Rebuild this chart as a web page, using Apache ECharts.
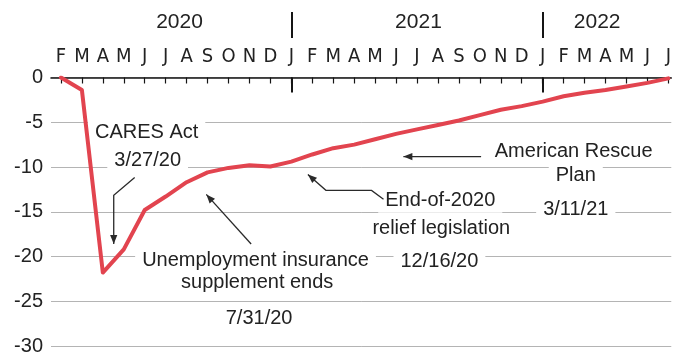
<!DOCTYPE html>
<html>
<head>
<meta charset="utf-8">
<script src="https://cdn.jsdelivr.net/npm/echarts@6/dist/echarts.min.js"></script>
<style>
  html, body { margin: 0; padding: 0; background: #fff; }
  #chart { width: 674px; height: 356px; }
</style>
</head>
<body>
<div id="chart"></div>
<script>
// Month index 0 = Feb 2020 ... 29 = Jul 2022
const monthLabels = ['F','M','A','M','J','J','A','S','O','N','D','J',
                     'F','M','A','M','J','J','A','S','O','N','D','J',
                     'F','M','A','M','J','J'];
const gapValues = [0, -1.4, -21.8, -19.2, -14.8, -13.3, -11.7, -10.6, -10.1, -9.8,
                   -9.95, -9.4, -8.6, -7.9, -7.5, -6.9, -6.3, -5.8, -5.3, -4.8,
                   -4.2, -3.6, -3.2, -2.7, -2.1, -1.7, -1.4, -1.0, -0.6, -0.1];
const yearLabels = ['2020', '2021', '2022'];
const yearLabelPos = [5.66, 17.07, 25.6];
const januaryIndex = [11, 23];
const yTicks = [0, -5, -10, -15, -20, -25, -30];

// Annotation text, anchored in (month index, value) space
const notes = [
  { text: 'CARES Act', at: [4.09, -6.17] },
  { text: '3/27/20', at: [4.14, -9.28] },
  { text: 'Unemployment insurance', at: [9.29, -20.39] },
  { text: 'supplement ends', at: [9.37, -22.94] },
  { text: '7/31/20', at: [9.46, -26.94] },
  { text: 'End-of-2020', at: [18.11, -13.72] },
  { text: 'relief legislation', at: [18.16, -16.83] },
  { text: '12/16/20', at: [18.07, -20.61] },
  { text: 'American Rescue', at: [24.48, -8.28] },
  { text: 'Plan', at: [24.58, -10.94] },
  { text: '3/11/21', at: [24.58, -14.72] }
];
// Leader arrows; the last point is the arrow tip
const arrows = [
  [[3.52, -11.17], [2.52, -13.17], [2.52, -18.61]],
  [[9.08, -18.61], [6.94, -13.06]],
  [[15.40, -13.61], [14.83, -12.61], [12.65, -12.61], [11.79, -10.83]],
  [[20.06, -8.83], [16.35, -8.83]]
];

const xMin = -0.475, xMax = 29.14;
const monthTicks = monthLabels.map((_, i) => i);
const FONT = '"Liberation Sans", Arial, sans-serif';
const NARROW = '"Liberation Sans Narrow", "DejaVu Sans Condensed", "Liberation Sans", sans-serif';

const chart = echarts.init(document.getElementById('chart'), null, { renderer: 'canvas' });

chart.setOption({
  animation: false,
  backgroundColor: '#fff',
  grid: { left: 51, right: 0, top: 77.5, bottom: 8.5, containLabel: false },
  xAxis: [
    {
      type: 'value', position: 'top', min: xMin, max: xMax,
      axisLine: { show: true, onZero: false, lineStyle: { color: '#151515', width: 1.6 } },
      axisTick: { show: true, inside: true, length: 6, customValues: monthTicks,
                  lineStyle: { color: '#151515', width: 1.2 } },
      axisLabel: { show: true, customValues: monthTicks, formatter: v => monthLabels[v],
                   margin: 11, fontSize: 20, fontFamily: NARROW, color: '#222' },
      splitLine: { show: false }
    },
    {
      type: 'value', position: 'top', min: xMin, max: xMax,
      axisLine: { show: false },
      axisTick: { show: true, inside: true, length: 15, customValues: januaryIndex,
                  lineStyle: { color: '#151515', width: 2 } },
      axisLabel: { show: false },
      splitLine: { show: false }
    },
    {
      type: 'value', position: 'top', offset: 39.5, min: xMin, max: xMax,
      axisLine: { show: false },
      axisTick: { show: true, inside: false, length: 26, customValues: januaryIndex,
                  lineStyle: { color: '#151515', width: 2 } },
      axisLabel: { show: true, customValues: yearLabelPos,
                   formatter: v => yearLabels[yearLabelPos.indexOf(v)] || '',
                   margin: 5, fontSize: 21, fontFamily: FONT, color: '#222' },
      splitLine: { show: false }
    }
  ],
  yAxis: {
    type: 'value', min: -30, max: 0, interval: 5,
    axisLine: { show: false },
    axisTick: { show: false },
    axisLabel: { margin: 8, fontSize: 20, fontFamily: FONT, color: '#222',
                 formatter: v => String(v) },
    splitLine: { show: true, lineStyle: { color: '#b4b4b4', width: 1 } }
  },
  series: [{
    type: 'line',
    xAxisIndex: 0,
    data: gapValues.map((v, i) => [i, v]),
    showSymbol: false,
    symbol: 'none',
    lineStyle: { color: '#e2444f', width: 4, cap: 'round', join: 'round' },
    z: 3
  }]
});

// Build annotations after the axes exist, converting anchors to pixels
function px(p) {
  return chart.convertToPixel({ xAxisIndex: 0, yAxisIndex: 0 }, p);
}

const graphics = [];
notes.forEach(n => {
  const p = px(n.at);
  graphics.push({
    type: 'text', x: p[0], y: p[1], z: 1,
    style: {
      text: n.text, font: '20px ' + FONT, fill: '#222',
      align: 'center', verticalAlign: 'middle',
      backgroundColor: '#fff', padding: [2, 7, 3, 7]
    }
  });
});

arrows.forEach(a => {
  const pts = a.map(px);
  graphics.push({
    type: 'polyline', z: 1,
    shape: { points: pts },
    style: { stroke: '#2a2a2a', lineWidth: 1.3, fill: null }
  });
  const tip = pts[pts.length - 1], prev = pts[pts.length - 2];
  const dx = tip[0] - prev[0], dy = tip[1] - prev[1];
  const len = Math.hypot(dx, dy);
  const ux = dx / len, uy = dy / len;
  const L = 9, W = 3.6;
  const bx = tip[0] - ux * L, by = tip[1] - uy * L;
  graphics.push({
    type: 'polygon', z: 1,
    shape: { points: [tip, [bx - uy * W, by + ux * W], [bx + uy * W, by - ux * W]] },
    style: { fill: '#2a2a2a' }
  });
});

chart.setOption({ graphic: graphics });
</script>
</body>
</html>
